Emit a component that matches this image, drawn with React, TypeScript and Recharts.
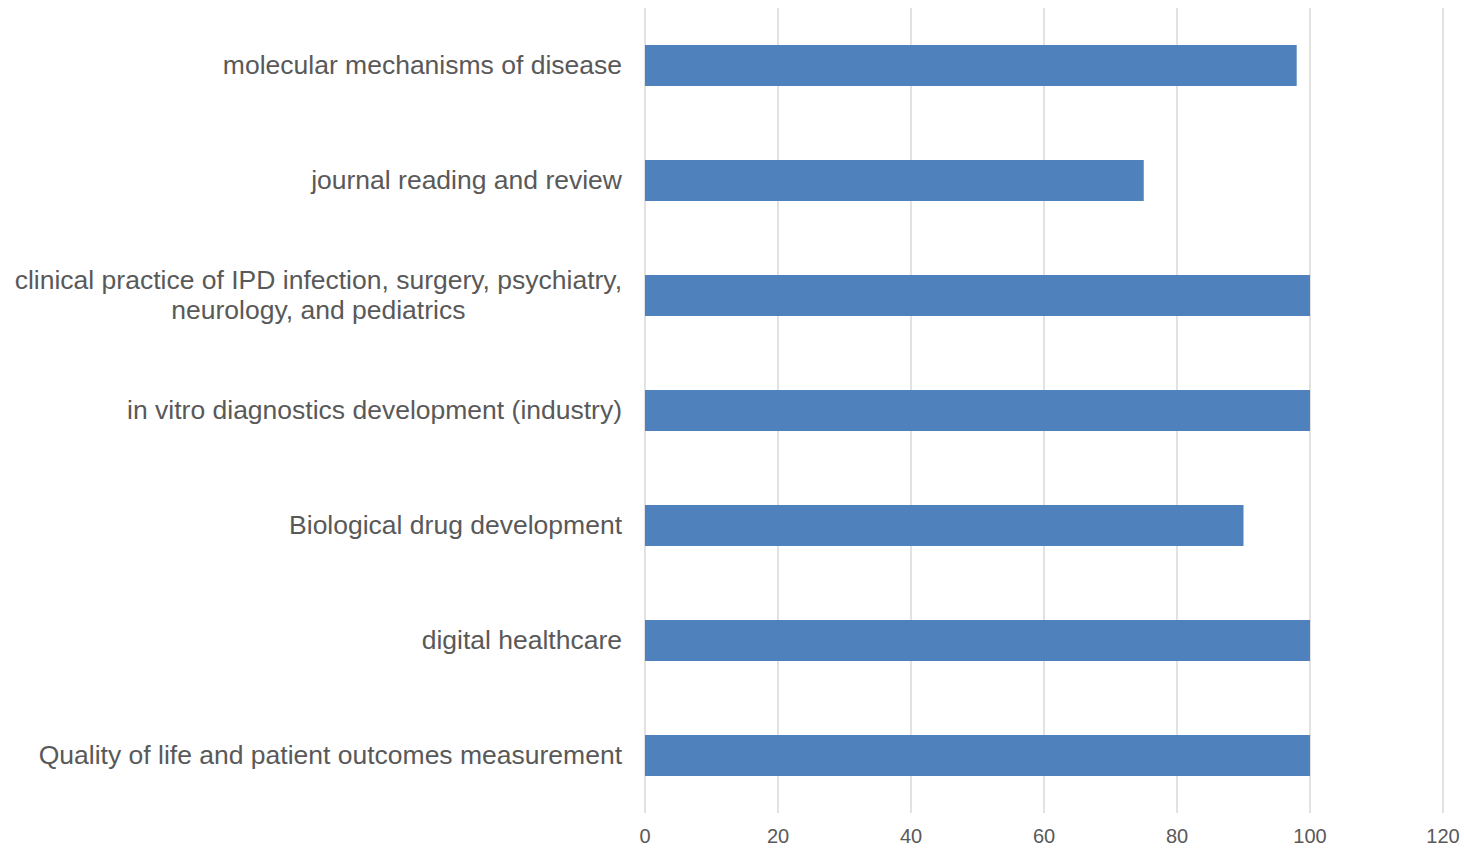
import { BarChart, Bar, XAxis, YAxis, CartesianGrid } from "recharts";

const categories = [
  "molecular mechanisms of disease",
  "journal reading and review",
  "clinical practice of IPD infection, surgery, psychiatry,|neurology, and pediatrics",
  "in vitro diagnostics development (industry)",
  "Biological drug development",
  "digital healthcare",
  "Quality of life and patient outcomes measurement",
];
const values = [98, 75, 100, 100, 90, 100, 100];
const xTicks = [0, 20, 40, 60, 80, 100, 120];

const data = categories.map((name, i) => ({ name, value: values[i] }));

const LABEL_FONT = "26.5px 'Liberation Sans', Arial, sans-serif";

function measure(text: string) {
  const ctx = document.createElement("canvas").getContext("2d");
  if (!ctx) return text.length * 13;
  ctx.font = LABEL_FONT;
  return ctx.measureText(text).width;
}

function CategoryTick(props: any) {
  const { x, y, payload } = props;
  const lines = String(payload.value).split("|");
  const right = x - 15;
  if (lines.length === 1) {
    return (
      <text x={right} y={y} dy="0.32em" textAnchor="end" fill="#595959"
        style={{ font: LABEL_FONT }}>
        {lines[0]}
      </text>
    );
  }
  const w = Math.max(...lines.map(measure));
  const cx = right - w / 2;
  const lh = 30;
  const start = y - ((lines.length - 1) * lh) / 2;
  return (
    <text textAnchor="middle" fill="#595959" style={{ font: LABEL_FONT }}>
      {lines.map((l, i) => (
        <tspan key={i} x={cx} y={start + i * lh} dy="0.32em">{l}</tspan>
      ))}
    </text>
  );
}

function ValueTick(props: any) {
  const { x, y, payload } = props;
  return (
    <text x={x} y={y + 8} textAnchor="middle" dy="0.71em" fill="#595959"
      style={{ font: "20px 'Liberation Sans', Arial, sans-serif" }}>
      {payload.value}
    </text>
  );
}

export default function App() {
  return (
    <div style={{ position: "absolute", left: 0, top: 0, background: "#fff" }}>
      <BarChart
        width={1464}
        height={849}
        data={data}
        layout="vertical"
        margin={{ top: 8, right: 21, left: 0, bottom: 0 }}
      >
        <CartesianGrid horizontal={false} stroke="#d9d9d9" strokeWidth={1.5} />
        <XAxis
          type="number"
          domain={[0, 120]}
          ticks={xTicks}
          axisLine={false}
          tickLine={false}
          height={36}
          tick={<ValueTick />}
          interval={0}
        />
        <YAxis
          type="category"
          dataKey="name"
          width={645}
          axisLine={false}
          tickLine={false}
          tick={<CategoryTick />}
          interval={0}
        />
        <Bar dataKey="value" fill="#4f81bd" barSize={41} isAnimationActive={false} />
      </BarChart>
    </div>
  );
}
